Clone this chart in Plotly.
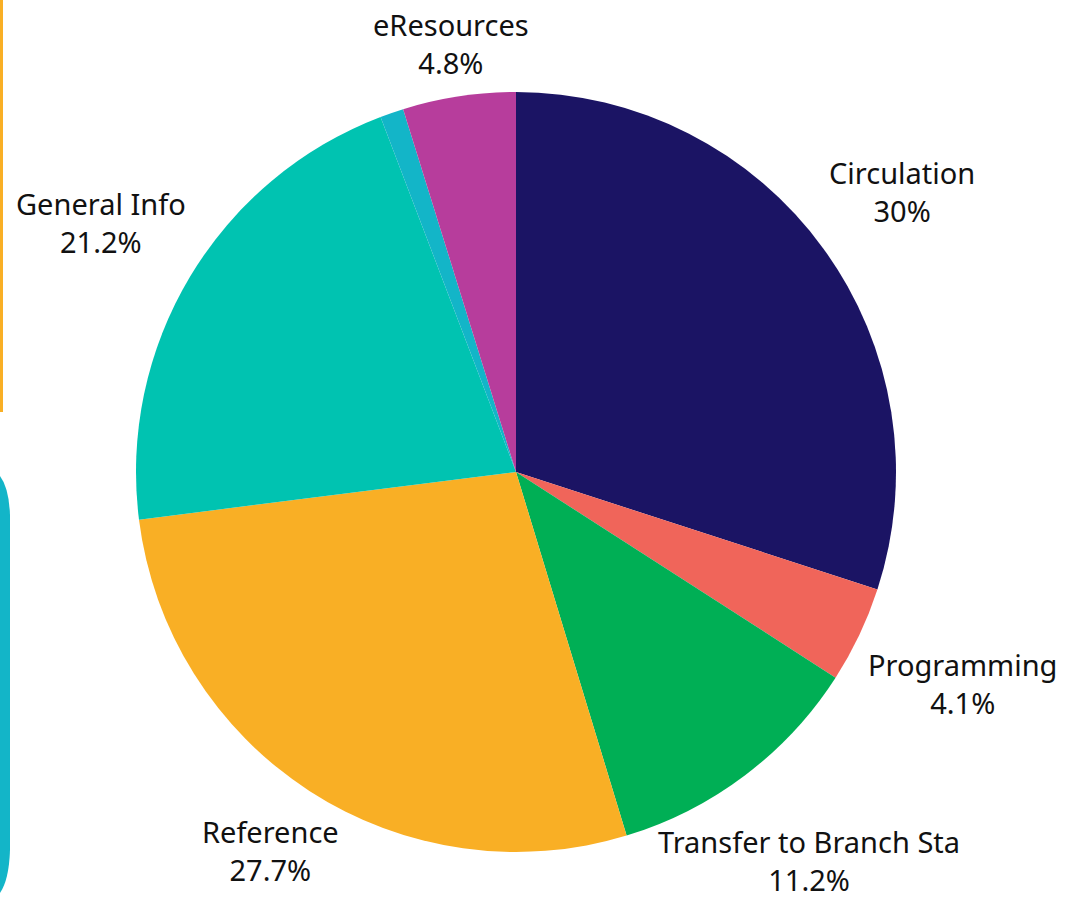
"""Service desk enquiries by category - pie chart."""

import math

import plotly.graph_objects as go

# data (percent of all enquiries)
categories = [
    "Circulation",
    "Programming",
    "Transfer to Branch Sta",
    "Reference",
    "General Info",
    "Other",
    "eResources",
]
shares = [30.0, 4.1, 11.2, 27.7, 21.2, 1.0, 4.8]
show_label = [True, True, True, True, True, False, True]

# styling
slice_colors = ["#1B1464", "#F0655A", "#00AF55", "#F9AF25", "#00C3B1", "#13B5C8", "#B73D9C"]
label_dist = [1.255, 1.30, 1.281, 1.187, 1.275, 1.0, 1.14]  # label centre / radius
label_font = {"family": "Noto Sans", "size": 29, "color": "#111111"}

W, H = 1068, 899
CX, CY, R = 516, 472, 380


def px(x):
    return x / W


def py(y):
    return 1 - y / H


fig = go.Figure(
    go.Pie(
        labels=categories,
        values=shares,
        sort=False,
        direction="clockwise",
        rotation=0,
        textinfo="none",
        hoverinfo="label+percent",
        marker={"colors": slice_colors, "line": {"width": 0}},
        domain={"x": [px(CX - R), px(CX + R)], "y": [py(CY + R), py(CY - R)]},
        showlegend=False,
    )
)

# outside labels, placed along each slice's mid angle
total = sum(shares)
cum = 0.0
for name, val, show, dist in zip(categories, shares, show_label, label_dist):
    mid = (cum + val / 2) / total * 2 * math.pi
    cum += val
    if not show:
        continue
    lx = CX + R * dist * math.sin(mid)
    ly = CY - R * dist * math.cos(mid)
    fig.add_annotation(
        x=px(lx),
        y=py(ly),
        xref="paper",
        yref="paper",
        text=f"{name}<br>{val:g}%",
        showarrow=False,
        xanchor="center",
        yanchor="middle",
        font=label_font,
    )

# decorative page elements cut by the frame
fig.add_shape(
    type="rect",
    xref="paper",
    yref="paper",
    x0=px(0),
    x1=px(3),
    y0=py(412),
    y1=py(0),
    fillcolor="#F9AF25",
    line={"width": 0},
    layer="below",
)
path = (
    f"M {px(0)},{py(476)} Q {px(9)},{py(488)} {px(10)},{py(515)} "
    f"L {px(10)},{py(850)} Q {px(9)},{py(880)} {px(0)},{py(893)} Z"
)
fig.add_shape(
    type="path",
    xref="paper",
    yref="paper",
    path=path,
    fillcolor="#13B5C8",
    line={"width": 0},
    layer="below",
)

fig.update_layout(
    width=W,
    height=H,
    margin={"l": 0, "r": 0, "t": 0, "b": 0},
    paper_bgcolor="white",
    plot_bgcolor="white",
)

fig.write_html(
    "out.html",
    config={"displayModeBar": False},
    post_script="document.body.style.margin = '0px';",
)
